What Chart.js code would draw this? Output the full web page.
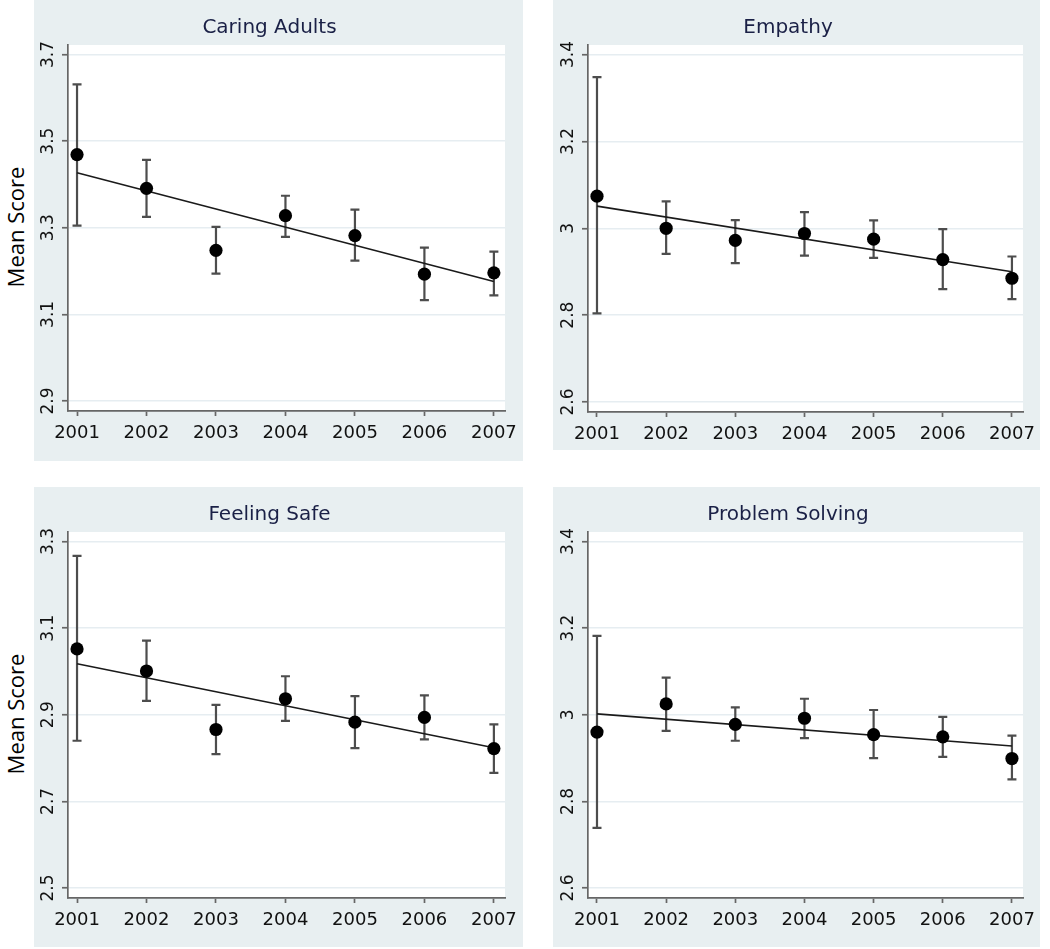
<!DOCTYPE html>
<html>
<head>
<meta charset="utf-8">
<script src="https://cdn.jsdelivr.net/npm/chart.js@4.4.1/dist/chart.umd.min.js"></script>
<style>
  body { margin: 0; background: #fff; width: 1050px; height: 949px; position: relative; overflow: hidden; }
  canvas { position: absolute; }
  #c1 { left: 34px; top: 0; }
  #c2 { left: 553px; top: 0; }
  #c3 { left: 34px; top: 487px; }
  #c4 { left: 553px; top: 487px; }
  .ylab {
    position: absolute; width: 160px; height: 30px; line-height: 30px;
    text-align: center; font-family: "Open Sans", sans-serif; font-size: 22px; color: #000;
    transform: rotate(-90deg); white-space: nowrap;
  }
</style>
</head>
<body>
<canvas id="c1" width="489" height="461"></canvas>
<canvas id="c2" width="487" height="450"></canvas>
<canvas id="c3" width="489" height="460"></canvas>
<canvas id="c4" width="487" height="460"></canvas>
<div class="ylab" style="left:-65px; top:212px;">Mean Score</div>
<div class="ylab" style="left:-65px; top:699px;">Mean Score</div>

<script>
// --- Data ---
const years = [2001, 2002, 2003, 2004, 2005, 2006, 2007];

const caringTicks = [2.9, 3.1, 3.3, 3.5, 3.7];
const caringMean = [3.469, 3.391, 3.248, 3.328, 3.282, 3.193, 3.196];
const caringLo   = [3.305, 3.325, 3.194, 3.279, 3.224, 3.133, 3.144];
const caringHi   = [3.631, 3.457, 3.302, 3.374, 3.342, 3.254, 3.245];
const caringFit  = [3.427, 3.176];

const empathyTicks = [2.6, 2.8, 3.0, 3.2, 3.4];
const empathyMean = [3.074, 3.000, 2.972, 2.988, 2.975, 2.928, 2.885];
const empathyLo   = [2.804, 2.941, 2.920, 2.937, 2.932, 2.860, 2.837];
const empathyHi   = [3.348, 3.062, 3.019, 3.037, 3.018, 2.998, 2.935];
const empathyFit  = [3.051, 2.900];

const safeTicks = [2.5, 2.7, 2.9, 3.1, 3.3];
const safeMean = [3.052, 3.001, 2.866, 2.937, 2.883, 2.894, 2.822];
const safeLo   = [2.840, 2.932, 2.809, 2.886, 2.823, 2.843, 2.766];
const safeHi   = [3.267, 3.071, 2.923, 2.989, 2.943, 2.945, 2.878];
const safeFit  = [3.018, 2.824];

const problemTicks = [2.6, 2.8, 3.0, 3.2, 3.4];
const problemMean = [2.960, 3.025, 2.978, 2.992, 2.954, 2.949, 2.899];
const problemLo   = [2.739, 2.963, 2.940, 2.946, 2.900, 2.903, 2.851];
const problemHi   = [3.182, 3.086, 3.017, 3.037, 3.011, 2.995, 2.952];
const problemFit  = [3.002, 2.928];

// --- Plugins ---
const panelBg = {
    id: 'panelBg',
    beforeDraw(chart) {
        const { ctx, chartArea: a } = chart;
        ctx.save();
        ctx.fillStyle = '#e8eff1';
        ctx.fillRect(0, 0, chart.width, chart.height);
        ctx.fillStyle = '#ffffff';
        ctx.fillRect(a.left, a.top, a.right - a.left, a.bottom - a.top);
        ctx.restore();
    }
};

// vertical CI bars with caps, drawn under the points
const errorBars = {
    id: 'errorBars',
    beforeDatasetsDraw(chart) {
        const ds = chart.data.datasets[0];
        const xs = chart.scales.x, ys = chart.scales.y;
        const ctx = chart.ctx;
        ctx.save();
        ctx.strokeStyle = '#4d4d4d';
        ctx.lineWidth = 2.2;
        ds.data.forEach((p, i) => {
            const px = xs.getPixelForValue(p.x);
            const top = ys.getPixelForValue(ds.errHi[i]);
            const bot = ys.getPixelForValue(ds.errLo[i]);
            ctx.beginPath();
            ctx.moveTo(px, top); ctx.lineTo(px, bot);
            ctx.moveTo(px - 4.5, top); ctx.lineTo(px + 4.5, top);
            ctx.moveTo(px - 4.5, bot); ctx.lineTo(px + 4.5, bot);
            ctx.stroke();
        });
        ctx.restore();
    }
};

function makePanel(id, title, ticks, mean, lo, hi, fit, yAxisW, pad) {
    const ctx = document.getElementById(id).getContext('2d');
    new Chart(ctx, {
        type: 'scatter',
        data: {
            datasets: [{
                type: 'scatter',
                data: years.map((yr, i) => ({ x: yr, y: mean[i] })),
                errLo: lo,
                errHi: hi,
                pointRadius: 6.6,
                pointBackgroundColor: '#000',
                pointBorderWidth: 0,
                order: 0
            }, {
                type: 'line',
                data: [{ x: years[0], y: fit[0] }, { x: years[years.length - 1], y: fit[1] }],
                borderColor: '#1a1a1a',
                borderWidth: 1.6,
                pointRadius: 0,
                fill: false,
                order: 1
            }]
        },
        options: {
            responsive: false,
            animation: false,
            devicePixelRatio: 1,
            layout: { padding: pad },
            plugins: {
                legend: { display: false },
                tooltip: { enabled: false },
                title: {
                    display: true,
                    text: title,
                    color: '#1a2046',
                    font: { family: 'DejaVu Sans', size: 20, weight: 'normal', lineHeight: 1.2 },
                    padding: { top: 16, bottom: 5 }
                }
            },
            scales: {
                x: {
                    type: 'linear',
                    min: 2000.87,
                    max: 2007.16,
                    afterBuildTicks: s => { s.ticks = years.map(v => ({ value: v })); },
                    afterFit: s => {
                        s.height = 30;
                        s.paddingLeft = 0; s.paddingRight = 0;
                        s.paddingTop = 0; s.paddingBottom = 0;
                    },
                    border: { display: true, color: '#666', width: 1.7 },
                    grid: { display: true, drawOnChartArea: false, drawTicks: true, tickLength: 5, tickColor: '#666', tickWidth: 1.7 },
                    ticks: {
                        color: '#111',
                        padding: 7,
                        maxRotation: 0,
                        font: { family: 'DejaVu Sans', size: 18 },
                        callback: v => String(v)
                    }
                },
                y: {
                    type: 'linear',
                    min: ticks[0] - 0.023,
                    max: ticks[ticks.length - 1] + 0.022,
                    afterBuildTicks: s => { s.ticks = ticks.map(v => ({ value: v })); },
                    afterFit: s => {
                        s.width = yAxisW;
                        s.paddingLeft = 0; s.paddingRight = 0;
                        s.paddingTop = 0; s.paddingBottom = 0;
                    },
                    border: { display: true, color: '#666', width: 1.7 },
                    grid: { color: '#e6edf1', lineWidth: 1.5, drawTicks: true, tickLength: 6, tickColor: '#666', tickWidth: 1.7 },
                    ticks: {
                        color: '#111',
                        padding: 0,
                        minRotation: 90,
                        maxRotation: 90,
                        crossAlign: 'center',
                        font: { family: 'DejaVu Sans', size: 17 },
                        callback: v => String(+v.toFixed(1))
                    }
                }
            }
        },
        plugins: [panelBg, errorBars]
    });
}

makePanel('c1', 'Caring Adults', caringTicks, caringMean, caringLo, caringHi, caringFit, 34, { left: 0, top: 0, right: 18, bottom: 20 });
makePanel('c2', 'Empathy', empathyTicks, empathyMean, empathyLo, empathyHi, empathyFit, 35, { left: 0, top: 0, right: 17, bottom: 8 });
makePanel('c3', 'Feeling Safe', safeTicks, safeMean, safeLo, safeHi, safeFit, 34, { left: 0, top: 0, right: 18, bottom: 19 });
makePanel('c4', 'Problem Solving', problemTicks, problemMean, problemLo, problemHi, problemFit, 35, { left: 0, top: 0, right: 17, bottom: 19 });
</script>
</body>
</html>
